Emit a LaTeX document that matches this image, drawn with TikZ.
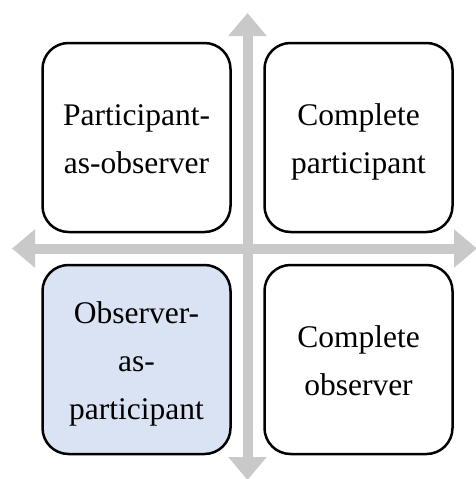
\documentclass[tikz,border=0pt]{standalone}
\usepackage{fontspec}
\setmainfont{Liberation Serif}
\usetikzlibrary{arrows.meta}
\definecolor{axisgray}{HTML}{C9C9C9}
\definecolor{lightblue}{HTML}{DAE3F3}
\newcommand{\lstrut}{\rule[-12.5pt]{0pt}{48pt}}
\tikzset{
  axisline/.style={draw=axisgray, line width=10pt,
    {Triangle[length=23pt,width=37pt]}-{Triangle[length=23pt,width=37pt]}},
  quad/.style={draw=black, line width=2.5pt, rounded corners=26pt,
    minimum width=188pt, minimum height=189pt, align=center,
    font=\fontsize{31.5pt}{48pt}\selectfont, inner sep=0pt},
}
\begin{document}
\begin{tikzpicture}[x=1pt,y=-1pt]
\useasboundingbox (0,0) rectangle (476,479);
\coordinate (hl) at (12,248.5);
\coordinate (hr) at (477,248.5);
\coordinate (vt) at (247.5,13);
\coordinate (vb) at (247.5,480);
\draw[axisline] (hl) -- (hr);
\draw[axisline] (vb) -- (vt);
\node[quad, fill=white] (tl) at (136.5,137.5) {\lstrut Participant-\\\lstrut as-observer};
\node[quad, fill=white] (tr) at (358.5,137.5) {\lstrut Complete\\\lstrut participant};
\node[quad, fill=lightblue] (bl) at (136.5,359.5) {\lstrut Observer-\\\lstrut as-\\\lstrut participant};
\node[quad, fill=white] (br) at (358.5,359.5) {\lstrut Complete\\\lstrut observer};
\end{tikzpicture}
\end{document}
